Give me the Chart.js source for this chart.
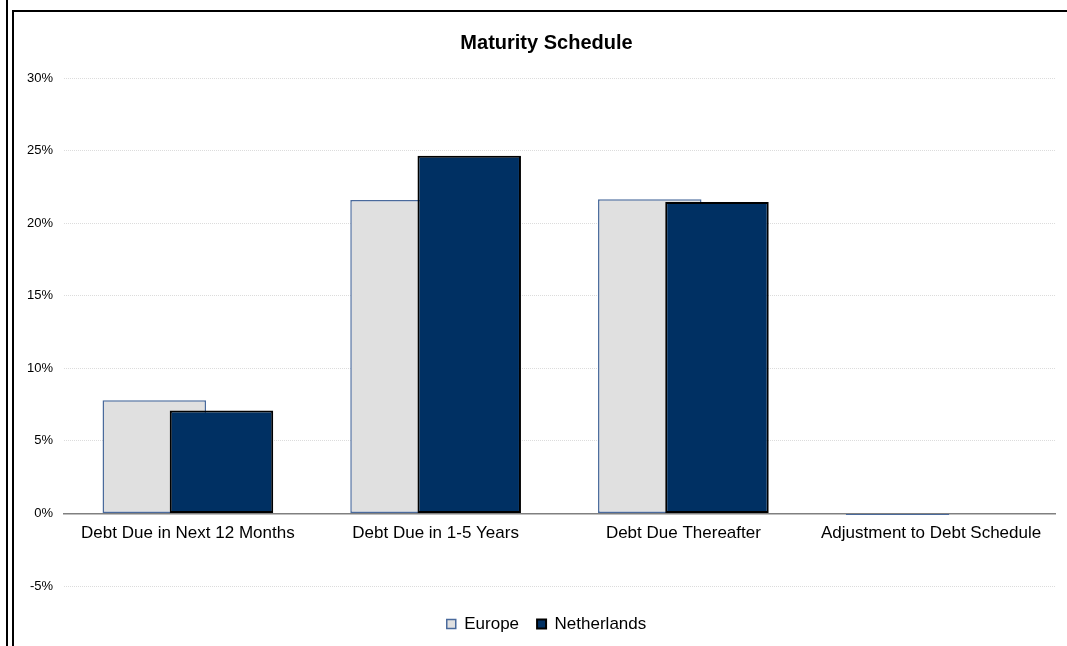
<!DOCTYPE html>
<html>
<head>
<meta charset="utf-8">
<script src="https://cdn.jsdelivr.net/npm/chart.js@4"></script>
<style>
  html, body { margin: 0; padding: 0; background: #fff; overflow: hidden; }
  .side { position: absolute; left: 6px; top: 0; width: 2px; height: 646px; background: #000; }
  .frame { position: absolute; left: 12px; top: 10px; border-left: 2px solid #000; border-top: 2px solid #000; }
  .box { position: relative; width: 1053px; height: 634px; }
</style>
</head>
<body>
<div class="side"></div>
<div class="frame"><div class="box"><canvas class="myChart"></canvas></div></div>
<script>
// values in percent
const categories = ['Debt Due in Next 12 Months', 'Debt Due in 1-5 Years', 'Debt Due Thereafter', 'Adjustment to Debt Schedule'];
const europe = [7.8, 21.6, 21.65, -0.1];
const netherlands = [7.1, 24.65, 21.45, 0];
const yTicks = [-5, 0, 5, 10, 15, 20, 25, 30];

// first dataset is drawn on top by default, we want Netherlands over Europe
const drawOrder = {
    id: 'drawOrder',
    beforeDatasetDraw(chart, args) {
        if (args.index === 1) return false;
    },
    afterDatasetDraw(chart, args) {
        if (args.index === 0) chart.getDatasetMeta(1).controller.draw();
    }
};

new Chart(document.querySelector('.myChart'), {
    type: 'bar',
    data: {
        labels: categories,
        datasets: [
            {
                label: 'Europe',
                data: europe,
                backgroundColor: '#e0e0e0',
                borderColor: '#4a6a9c',
                borderWidth: 1.5,
                borderSkipped: false,
                categoryPercentage: 0.5425,
                barPercentage: 1.54
            },
            {
                label: 'Netherlands',
                data: netherlands,
                backgroundColor: '#003063',
                borderColor: '#000',
                borderWidth: 2,
                borderSkipped: false,
                categoryPercentage: 0.5425,
                barPercentage: 1.54
            }
        ]
    },
    plugins: [drawOrder],
    options: {
        responsive: true,
        maintainAspectRatio: false,
        animation: false,
        events: [],
        layout: { padding: { left: 12, right: 0, top: 0, bottom: 3.5 } },
        plugins: {
            title: {
                display: true,
                text: 'Maturity Schedule',
                color: '#000',
                font: { family: 'Liberation Sans, Arial', size: 20, weight: 'bold' },
                padding: { top: 19, bottom: 23 }
            },
            legend: {
                position: 'bottom',
                labels: {
                    color: '#000',
                    font: { family: 'Liberation Sans, Arial', size: 17 },
                    boxWidth: 9,
                    boxHeight: 9,
                    padding: 18
                }
            },
            tooltip: { enabled: false }
        },
        scales: {
            x: {
                position: { y: 0 },
                grid: { display: false, drawTicks: false },
                border: { display: true, color: '#808080', width: 1.5 },
                ticks: {
                    color: '#000',
                    padding: 10,
                    maxRotation: 0,
                    autoSkip: false,
                    font: { family: 'Liberation Sans, Arial', size: 17 }
                }
            },
            xpad: {
                type: 'category',
                position: 'bottom',
                grid: { display: false, drawTicks: false },
                border: { display: false },
                ticks: { display: false },
                afterFit(scale) { scale.height = 11.5; }
            },
            y: {
                min: -5,
                max: 30,
                grid: {
                    drawTicks: false,
                    color: ctx => ctx.tick && ctx.tick.value === 0 ? 'rgba(0,0,0,0)' : '#dcdcdc'
                },
                border: { display: false, dash: [1, 1] },
                afterBuildTicks(scale) { scale.ticks = yTicks.map(v => ({ value: v })); },
                afterFit(scale) { scale.width = 38; },
                ticks: {
                    color: '#000',
                    padding: 11,
                    font: { family: 'Liberation Sans, Arial', size: 13 },
                    callback: v => v + '%'
                }
            },
            ypad: {
                type: 'linear',
                position: 'right',
                grid: { display: false, drawTicks: false },
                border: { display: false },
                ticks: { display: false },
                afterFit(scale) { scale.width = 12; }
            }
        }
    }
});
</script>
</body>
</html>
